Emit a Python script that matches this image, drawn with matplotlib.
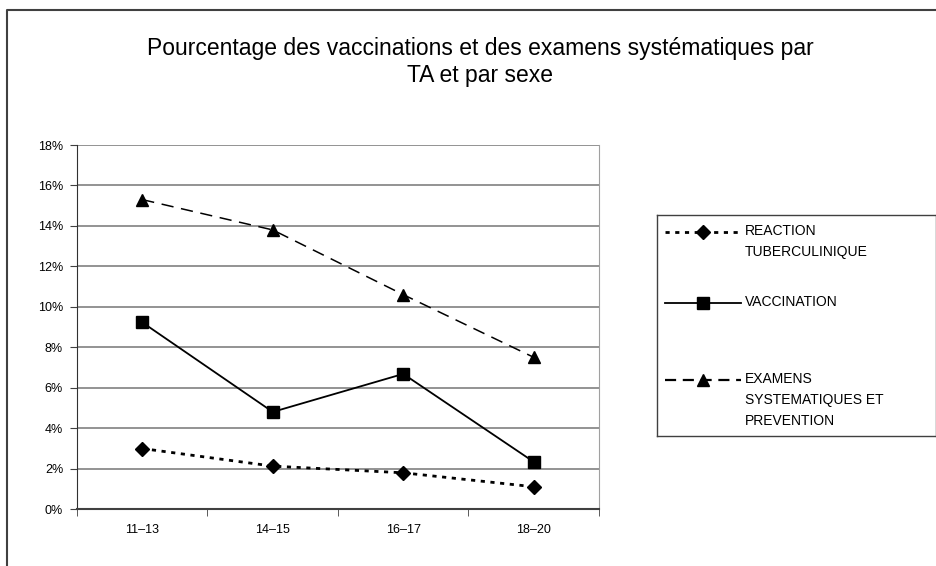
import matplotlib.pyplot as plt
from matplotlib.lines import Line2D
from matplotlib.ticker import FuncFormatter

plt.rcParams['font.family'] = ['Liberation Sans', 'DejaVu Sans']

# Data (percentages)
age_groups = ['11\u201313', '14\u201315', '16\u201317', '18\u201320']
reaction_tuberculinique = [2.99, 2.12, 1.79, 1.10]
vaccination = [9.23, 4.80, 6.68, 2.33]
examens_systematiques = [15.3, 13.8, 10.6, 7.5]

labels = ['REACTION\nTUBERCULINIQUE', 'VACCINATION',
          'EXAMENS\nSYSTEMATIQUES ET\nPREVENTION']

W, H = 937, 566


def fig_rect(x0, y0, x1, y1):
    """ Pixel box (top-left origin) -> figure fraction rect. """
    return [x0 / W, 1 - y1 / H, (x1 - x0) / W, (y1 - y0) / H]


fig = plt.figure(figsize=(W / 100, H / 100), dpi=100)

# Outer chart border (only top and left are visible in the reference)
fig.add_artist(Line2D([7 / W, 7 / W, 1.0], [0.0, 1 - 10 / H, 1 - 10 / H],
                      transform=fig.transFigure, color='#404040', lw=1.5))

fig.text(480 / W, 1 - 62 / H,
         'Pourcentage des vaccinations et des examens syst\u00e9matiques par\nTA et par sexe',
         ha='center', va='center', fontsize=16.5, linespacing=1.25)

ax = fig.add_axes(fig_rect(77, 145, 599, 509))
x = range(len(age_groups))

ax.plot(x, reaction_tuberculinique, color='black', lw=2, dashes=(1.5, 2),
        marker='D', markersize=7)
ax.plot(x, vaccination, color='black', lw=1.3, marker='s', markersize=8)
ax.plot(x, examens_systematiques, color='black', lw=1.1, dashes=(8, 5),
        marker='^', markersize=9)

ax.set_xlim(-0.5, len(age_groups) - 0.5)
ax.set_ylim(0, 18)
ax.set_yticks(range(0, 19, 2))
ax.yaxis.set_major_formatter(FuncFormatter(lambda v, p: f'{int(v)}%'))
ax.set_xticks(x)
ax.set_xticklabels(age_groups)
ax.set_xticks([i + 0.5 for i in range(-1, len(age_groups))], minor=True)
ax.tick_params(axis='x', which='major', length=0, pad=11, labelsize=9)
ax.tick_params(axis='x', which='minor', length=5, direction='out', color='#404040')
ax.tick_params(axis='y', length=5, direction='out', pad=5, labelsize=9,
               color='#404040')
ax.grid(axis='y', color='#808080', lw=1.2)
ax.set_axisbelow(True)
ax.spines['top'].set_visible(False)
ax.spines['right'].set_color('#a0a0a0')
ax.spines['left'].set_color('#303030')
ax.spines['bottom'].set_color('#404040')
ax.spines['bottom'].set_linewidth(1.5)

# Legend box drawn in pixel coordinates
lax = fig.add_axes(fig_rect(657, 215, 936, 436))
lax.set_xlim(0, 279)
lax.set_ylim(221, 0)
lax.set_xticks([])
lax.set_yticks([])
for s in lax.spines.values():
    s.set_color('#404040')
    s.set_linewidth(1.0)

styles = [dict(lw=2, dashes=(1.5, 2), marker='D', markersize=7),
          dict(lw=1.3, marker='s', markersize=8),
          dict(lw=1.6, dashes=(5, 3), marker='^', markersize=9)]
rows = [17, 88, 165]
for lab, st, yy in zip(labels, styles, rows):
    lax.add_line(Line2D([8, 84], [yy, yy], color='black',
                        **dict(st, marker=None)))
    lax.plot([46], [yy], color='black', marker=st['marker'],
             markersize=st['markersize'], linestyle='none')
    lax.text(88, yy - 8, lab, ha='left', va='top', fontsize=10,
             linespacing=1.65)

fig.savefig('out.png', dpi=100)
